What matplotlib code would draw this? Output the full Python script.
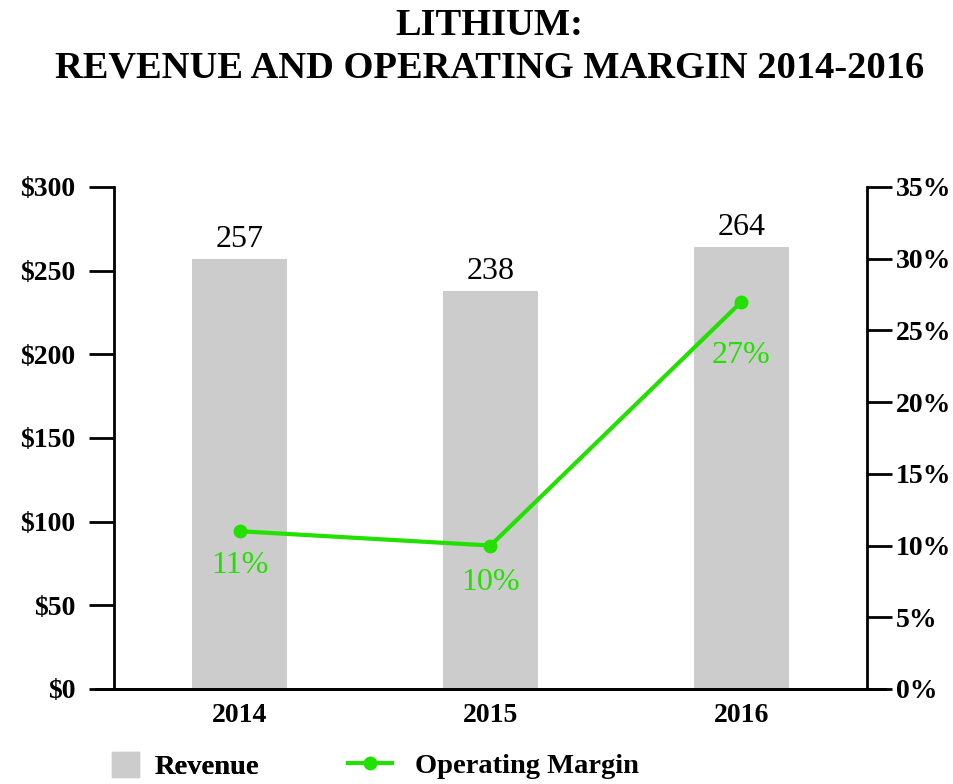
import matplotlib
matplotlib.use("Agg")
import matplotlib.pyplot as plt
from matplotlib.lines import Line2D
from matplotlib.patches import Patch

years = ["2014", "2015", "2016"]
revenue = [257, 238, 264]
margin = [11, 10, 27]
rev_ticks = [0, 50, 100, 150, 200, 250, 300]
rev_tick_labels = ["$0", "$50", "$100", "$150", "$200", "$250", "$300"]
pct_ticks = [0, 5, 10, 15, 20, 25, 30, 35]
pct_tick_labels = ["0%", "5%", "10%", "15%", "20%", "25%", "30%", "35%"]
margin_label_offsets = [-14, -16, -28]  # points below each marker

GREEN = "#22e000"
GRAY = "#cccccc"
FONT = "Liberation Serif"
plt.rcParams["font.family"] = [FONT, "DejaVu Serif"]

fig = plt.figure(figsize=(9.54, 7.84), dpi=100)
ax = fig.add_axes([0.1195, 0.1212, 0.7893, 0.6403])
x = list(range(len(years)))
ax.bar(x, revenue, width=0.38, color=GRAY, zorder=1)
ax.set_xlim(-0.5, 2.5)
ax.set_ylim(0, 300)
ax.set_yticks(rev_ticks)
ax.set_yticklabels(rev_tick_labels, fontsize=20, fontweight="bold")
ax.set_xticks(x)
ax.set_xticklabels(years, fontsize=20, fontweight="bold")
ax.tick_params(axis="x", length=0, pad=10)
ax.tick_params(axis="y", length=18, width=2, pad=10)
for s in ["top", "right"]:
    ax.spines[s].set_visible(False)
ax.spines["left"].set_linewidth(2)
ax.spines["bottom"].set_linewidth(2)
for xi, v in zip(x, revenue):
    ax.text(xi, v + 3, str(v), ha="center", va="bottom", fontsize=23)

ax2 = ax.twinx()
ax2.set_ylim(0, 35)
ax2.set_yticks(pct_ticks)
ax2.set_yticklabels(pct_tick_labels, fontsize=20, fontweight="bold")
ax2.tick_params(axis="y", length=18, width=2, pad=3)
for s in ["top", "left", "bottom"]:
    ax2.spines[s].set_visible(False)
ax2.spines["right"].set_linewidth(2)
ax2.plot(x, margin, color=GREEN, lw=3, marker="o", ms=9, zorder=3)
for xi, v, off in zip(x, margin, margin_label_offsets):
    ax2.annotate(f"{v}%", (xi, v), xytext=(0, off), textcoords="offset points",
                 ha="center", va="top", fontsize=23, color=GREEN)

# extend baseline across both tick marks
ax.plot([-0.5 - 18/251, 2.5 + 18/251], [0, 0], color="black", lw=2, clip_on=False, zorder=5)

fig.text(0.513, 0.99, "LITHIUM:\nREVENUE AND OPERATING MARGIN 2014-2016",
         ha="center", va="top", fontsize=27.7, fontweight="bold", linespacing=1.27)

prop = {"family": FONT, "size": 20.5, "weight": "bold"}
leg1 = fig.legend(handles=[Patch(color=GRAY, label="Revenue")], loc="center left",
                  bbox_to_anchor=(112/954, 1 - 766/784), frameon=False, prop=prop,
                  handlelength=0.95, handleheight=0.95, handletextpad=0.56,
                  borderpad=0, borderaxespad=0)
fig.add_artist(leg1)
fig.legend(handles=[Line2D([], [], color=GREEN, lw=3, marker="o", ms=9, label="Operating Margin")],
           loc="center left", bbox_to_anchor=(348/954, 1 - 766/784), frameon=False, prop=prop,
           handlelength=1.55, handletextpad=0.8, borderpad=0, borderaxespad=0)

fig.savefig("out.png", dpi=100)
